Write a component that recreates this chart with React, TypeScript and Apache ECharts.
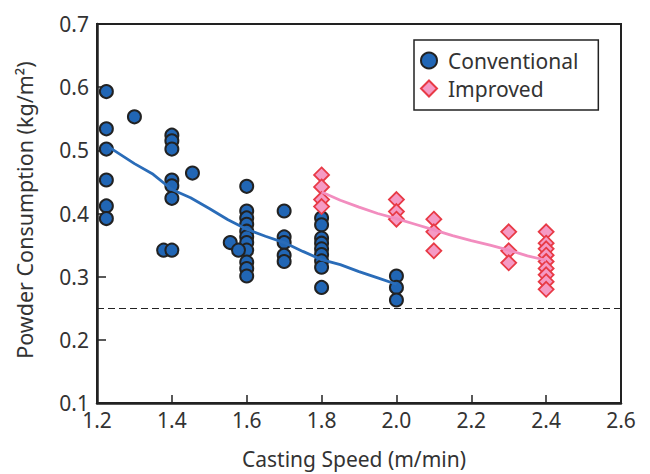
import React, { useEffect, useRef } from "react";
import * as echarts from "echarts";

const conventional: number[][] = [
  [1.225, 0.593], [1.225, 0.534], [1.225, 0.502], [1.225, 0.453], [1.225, 0.412], [1.225, 0.392],
  [1.3, 0.553],
  [1.4, 0.524], [1.4, 0.515], [1.4, 0.502], [1.4, 0.453], [1.4, 0.444], [1.4, 0.424], [1.378, 0.342], [1.4, 0.342],
  [1.455, 0.464],
  [1.6, 0.443], [1.6, 0.404], [1.6, 0.393], [1.6, 0.383], [1.6, 0.372], [1.6, 0.363], [1.6, 0.354], [1.6, 0.342],
  [1.6, 0.323], [1.6, 0.313], [1.6, 0.301], [1.556, 0.354], [1.578, 0.342],
  [1.7, 0.404], [1.7, 0.363], [1.7, 0.354], [1.7, 0.334], [1.7, 0.324],
  [1.8, 0.393], [1.8, 0.382], [1.8, 0.361], [1.8, 0.353], [1.8, 0.344], [1.8, 0.335], [1.8, 0.325], [1.8, 0.315], [1.8, 0.283],
  [2.0, 0.301], [2.0, 0.283], [2.0, 0.263],
];

const improved: number[][] = [
  [1.8, 0.461], [1.8, 0.442], [1.8, 0.422], [1.8, 0.411],
  [2.0, 0.422], [2.0, 0.403], [2.0, 0.391],
  [2.1, 0.391], [2.1, 0.371], [2.1, 0.341],
  [2.3, 0.371], [2.3, 0.341], [2.3, 0.322],
  [2.4, 0.371], [2.4, 0.353], [2.4, 0.344], [2.4, 0.334], [2.4, 0.324], [2.4, 0.313], [2.4, 0.303], [2.4, 0.292], [2.4, 0.28],
];

const conventionalTrend: number[][] = [
  [1.232, 0.505], [1.3, 0.479], [1.35, 0.462], [1.4, 0.438], [1.45, 0.425], [1.5, 0.408], [1.55, 0.39],
  [1.6, 0.375], [1.65, 0.364], [1.7, 0.354], [1.75, 0.34], [1.8, 0.327], [1.85, 0.319], [1.9, 0.308], [1.95, 0.298], [2.0, 0.288],
];

const improvedTrend: number[][] = [
  [1.8, 0.434], [1.85, 0.421], [1.9, 0.41], [1.95, 0.4], [2.0, 0.392], [2.05, 0.383], [2.1, 0.374], [2.15, 0.365],
  [2.2, 0.357], [2.25, 0.35], [2.3, 0.342], [2.35, 0.333], [2.4, 0.326],
];

const thresholdLevel = 0.25;
const xTicks = { min: 1.2, max: 2.6, interval: 0.2 };
const yTicks = { min: 0.1, max: 0.7, interval: 0.1 };
const xName = "Casting Speed (m/min)";
const yName = "Powder Consumption (kg/m²)";

const FONT = "Noto Sans";
const TEXT = "#333";

export default function App() {
  const ref = useRef<HTMLDivElement>(null);
  useEffect(() => {
    if (!ref.current) return;
    const chart = echarts.init(ref.current, null, { renderer: "svg" });
    chart.setOption({
      animation: false,
      backgroundColor: "#fff",
      grid: { left: 97, top: 24, right: 29, bottom: 71, show: true, borderColor: "#222", borderWidth: 2 },
      legend: {
        left: 414,
        top: 40,
        orient: "vertical",
        width: 180,
        padding: [10, 20, 11, 6],
        itemGap: 7,
        itemWidth: 16,
        itemHeight: 16,
        borderColor: "#222",
        borderWidth: 1.5,
        textStyle: { fontFamily: FONT, fontSize: 21, color: TEXT, padding: [0, 0, 0, 6] },
        data: [
          { name: "Conventional", icon: "circle" },
          { name: "Improved", icon: "diamond" },
        ],
      },
      xAxis: {
        type: "value",
        min: xTicks.min,
        max: xTicks.max,
        interval: xTicks.interval,
        axisLine: { lineStyle: { color: "#222", width: 2.5 } },
        axisTick: { inside: true, length: 8, lineStyle: { color: "#222", width: 1.5 } },
        splitLine: { show: false },
        axisLabel: {
          fontFamily: FONT,
          fontSize: 21,
          color: TEXT,
          margin: 6,
          formatter: (v: number) => v.toFixed(1),
        },
      },
      yAxis: {
        type: "value",
        min: yTicks.min,
        max: yTicks.max,
        interval: yTicks.interval,
        axisLine: { show: true, lineStyle: { color: "#222", width: 2.5 } },
        axisTick: { show: true, inside: true, length: 9, lineStyle: { color: "#222", width: 1.5 } },
        splitLine: { show: false },
        axisLabel: {
          fontFamily: FONT,
          fontSize: 21,
          color: TEXT,
          margin: 8,
          formatter: (v: number) => v.toFixed(1),
        },
      },
      graphic: [
        {
          type: "text",
          x: 24,
          y: 210,
          rotation: Math.PI / 2,
          style: {
            text: yName,
            fontFamily: FONT,
            fontSize: 21.5,
            fill: TEXT,
            align: "center",
            verticalAlign: "middle",
          },
        },
        {
          type: "text",
          x: 354,
          y: 459,
          style: {
            text: xName,
            fontFamily: FONT,
            fontSize: 21,
            fill: TEXT,
            align: "center",
            verticalAlign: "middle",
          },
        },
      ],
      series: [
        {
          name: "Conventional",
          type: "scatter",
          data: conventional,
          symbol: "circle",
          symbolSize: 13,
          itemStyle: { color: "#2166b5", borderColor: "#222", borderWidth: 2, opacity: 1 },
          z: 2,
          markLine: {
            silent: true,
            symbol: "none",
            label: { show: false },
            lineStyle: { color: "#222", type: [7, 4], width: 1.2 },
            data: [{ yAxis: thresholdLevel }],
          },
        },
        {
          name: "Improved",
          type: "scatter",
          data: improved,
          symbol: "diamond",
          symbolSize: 15,
          itemStyle: { color: "#f59ac4", borderColor: "#e83a46", borderWidth: 1.8, opacity: 1 },
          z: 3,
        },
        {
          name: "ConvTrend",
          type: "line",
          data: conventionalTrend,
          showSymbol: false,
          symbol: "none",
          lineStyle: { color: "#2a6cb8", width: 2.8 },
          z: 4,
        },
        {
          name: "ImpTrend",
          type: "line",
          data: improvedTrend,
          showSymbol: false,
          symbol: "none",
          lineStyle: { color: "#f28dbf", width: 2.8 },
          z: 4,
        },
      ],
    });
    return () => chart.dispose();
  }, []);
  return <div ref={ref} style={{ width: 650, height: 474, position: "absolute", left: 0, top: 0 }} />;
}
